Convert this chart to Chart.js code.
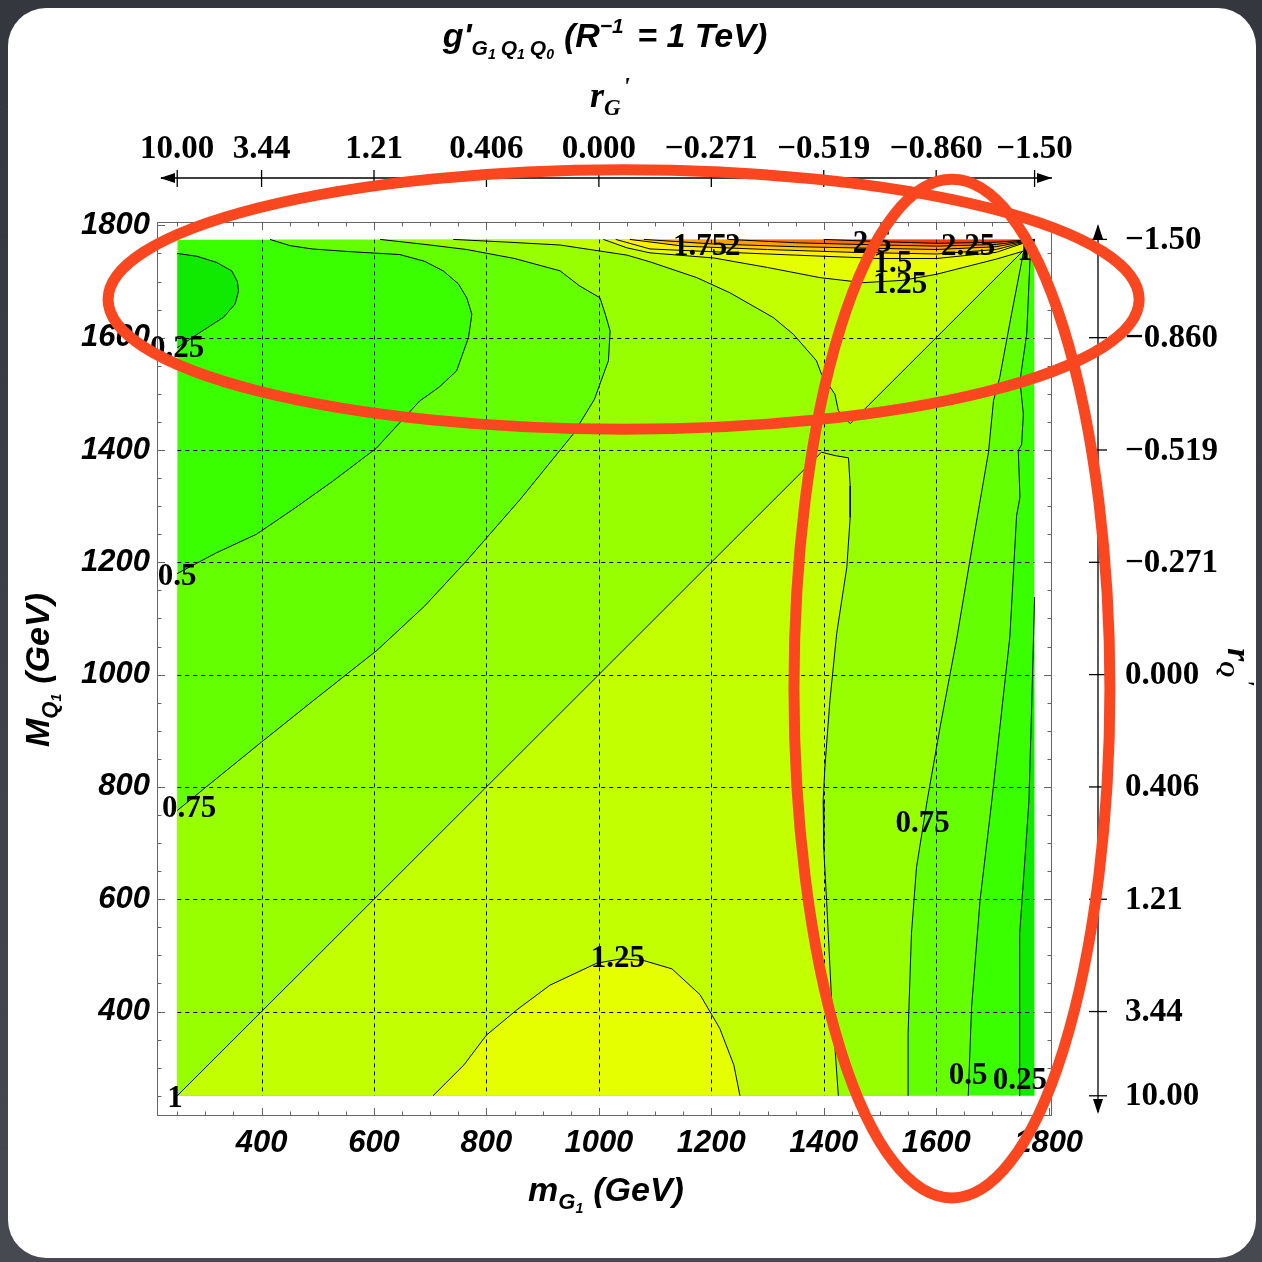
<!DOCTYPE html>
<html>
<head>
<meta charset="utf-8">
<script src="https://cdn.jsdelivr.net/npm/chart.js@4.4.1/dist/chart.umd.min.js"></script>
<style>
  html, body { margin: 0; padding: 0; background: #3c3f46; }
  canvas { display: block; }
</style>
</head>
<body>
<canvas id="chart" width="1262" height="1262"></canvas>
<script>
// axis ticks (GeV) and the r' scales that go with them
const massTicks = [400, 600, 800, 1000, 1200, 1400, 1600, 1800];
const gridMasses = [400, 600, 800, 1000, 1200, 1400, 1600];
const rTickMasses = [250, 400, 600, 800, 1000, 1200, 1400, 1600, 1775];
const rTickLabels = ['10.00', '3.44', '1.21', '0.406', '0.000', '\u22120.271', '\u22120.519', '\u22120.860', '\u22121.50'];
const massLow = 250, massHigh = 1775;

// contour lines, [mG1, MQ1] in GeV
const contour025Left = [[250,1750],[285,1745],[320,1734],[347,1719],[357,1700],[359,1683],[353,1660],[332,1636],[290,1609],[250,1582]];
const contour025Right = [[1748,250],[1748,391],[1749,539],[1761,717],[1765,776],[1770,950],[1775,1138]];
const contour050Left = [[415,1775],[450,1764],[490,1758],[560,1753],[646,1748],[690,1736],[723,1719],[750,1696],[765,1671],[774,1642],[771,1620],[768,1600],[747,1541],[716,1512],[681,1487],[604,1403],[526,1344],[460,1297],[391,1250],[320,1217],[250,1180]];
const contour050Right = [[1657,250],[1663,408],[1678,598],[1699,776],[1731,1067],[1743,1283],[1749,1316],[1746,1399],[1752,1410],[1755,1464],[1749,1523],[1761,1606],[1767,1742],[1775,1775]];
const contour075Left = [[611,1775],[700,1765],[765,1757],[850,1741],[931,1719],[966,1692],[1002,1671],[1012,1640],[1020,1612],[1017,1559],[992,1490],[954,1428],[860,1312],[765,1203],[690,1122],[605,1043],[500,960],[400,880],[320,815],[250,758]];
const contour075Right = [[1550,250],[1550,361],[1556,539],[1565,657],[1584,776],[1607,907],[1636,1061],[1666,1239],[1693,1396],[1702,1488],[1713,1529],[1734,1642],[1755,1751],[1775,1775]];
const contour100Lower = [[250,250],[1396,1396],[1420,1390],[1444,1386],[1447,1336],[1447,1280],[1441,1191],[1423,1073],[1411,954],[1402,835],[1399,776],[1400,690],[1405,598],[1414,420],[1426,250]];
const contour100Upper = [[741,1775],[840,1770],[931,1765],[1050,1747],[1091,1735],[1174,1707],[1233,1680],[1310,1636],[1346,1606],[1387,1559],[1396,1535],[1420,1499],[1426,1470],[1447,1447],[1600,1600],[1760,1760],[1775,1775]];
const contour125Lower = [[705,250],[760,305],[800,358],[854,403],[913,447],[996,486],[1040,494],[1079,491],[1130,476],[1180,430],[1215,370],[1240,305],[1251,250]];
const contour125Upper = [[1008,1775],[1050,1760],[1091,1751],[1204,1742],[1300,1725],[1393,1707],[1470,1698],[1540,1702],[1601,1713],[1707,1740],[1755,1754],[1775,1775]];
const contour150 = [[1030,1775],[1091,1758],[1204,1753],[1350,1747],[1500,1741],[1601,1741],[1707,1752],[1775,1775]];
const contour175 = [[1055,1775],[1150,1763],[1300,1757],[1450,1752],[1601,1749],[1707,1757],[1775,1775]];
const contour200 = [[1080,1775],[1200,1767],[1350,1762],[1500,1759],[1601,1757],[1707,1762],[1775,1775]];
const contour225 = [[1230,1775],[1350,1769],[1500,1765],[1601,1763],[1707,1766],[1775,1775]];
const contour250 = [[1400,1775],[1500,1771],[1601,1768],[1707,1770],[1775,1775]];

// contour labels: text, mG1, MQ1
const contourLabels = [
  ['0.25', 250, 1582], ['0.5', 250, 1176], ['0.75', 271, 762], ['1', 246, 246],
  ['1.25', 1034, 495], ['0.75', 1576, 735], ['0.5', 1657, 287], ['0.25', 1749, 278],
  ['1.75', 1180, 1763], ['2', 1238, 1763], ['2.5', 1486, 1769], ['1.5', 1523, 1733],
  ['1.25', 1536, 1696], ['2.25', 1657, 1763], ['1', 1758, 1754]
];

// red hand-drawn marks: centre and radii in GeV
const markEllipses = [
  { cx: 1044, cy: 1668, rx: 917, ry: 231 },
  { cx: 1628, cy: 975, rx: 281, ry: 907 }
];

const bandColors = ['#3aff00', '#10ea00', '#64ff00', '#98ff00', '#c2ff00', '#e6ff00', '#fff000', '#ffcc00', '#ffa000', '#ff7000', '#ff3a00'];

const fillRegions = [
  { color: bandColors[0], pts: [[massLow, massLow], [massHigh, massLow], [massHigh, massHigh], [massLow, massHigh]] },
  { color: bandColors[1], pts: contour025Left },
  { color: bandColors[1], pts: contour025Right.concat([[massHigh, massLow]]) },
  { color: bandColors[2], pts: contour050Left.concat([[massLow, massLow]], contour050Right) },
  { color: bandColors[3], pts: contour075Left.concat([[massLow, massLow]], contour075Right) },
  { color: bandColors[4], pts: contour100Lower },
  { color: bandColors[4], pts: contour100Upper },
  { color: bandColors[5], pts: contour125Lower },
  { color: bandColors[5], pts: contour125Upper },
  { color: bandColors[6], pts: contour150 },
  { color: bandColors[7], pts: contour175 },
  { color: bandColors[8], pts: contour200 },
  { color: bandColors[9], pts: contour225 },
  { color: bandColors[10], pts: contour250 }
];

const contourLines = [contour025Left, contour025Right, contour050Left, contour050Right, contour075Left, contour075Right,
  contour100Lower, contour100Upper, contour125Lower, contour125Upper, contour150, contour175, contour200, contour225, contour250];

const sansBI = s => `italic bold ${s}px "Liberation Sans"`;
const serifB = s => `bold ${s}px "Liberation Serif"`;
const serifBI = s => `italic bold ${s}px "Liberation Serif"`;

function drawRich(ctx, parts, x, y, angle) {
  ctx.save();
  ctx.translate(x, y);
  if (angle) ctx.rotate(angle);
  let total = 0;
  parts.forEach(p => { ctx.font = p.f; p.w = ctx.measureText(p.t).width + (p.gap || 0); total += p.w; });
  let cx = -total / 2;
  ctx.textAlign = 'left';
  ctx.textBaseline = 'alphabetic';
  ctx.fillStyle = '#000';
  parts.forEach(p => { ctx.font = p.f; ctx.fillText(p.t, cx, p.dy || 0); cx += p.w; });
  ctx.restore();
}

function polyPath(ctx, xs, ys, pts) {
  ctx.beginPath();
  pts.forEach((p, i) => {
    const px = xs.getPixelForValue(p[0]), py = ys.getPixelForValue(p[1]);
    if (i === 0) ctx.moveTo(px, py); else ctx.lineTo(px, py);
  });
  ctx.closePath();
}

const plotDecor = {
  id: 'plotDecor',
  beforeDraw(chart) {
    const ctx = chart.ctx;
    ctx.save();
    const g = ctx.createLinearGradient(0, 0, 0, chart.height);
    g.addColorStop(0, '#34373e');
    g.addColorStop(1, '#464950');
    ctx.fillStyle = g;
    ctx.fillRect(0, 0, chart.width, chart.height);
    ctx.fillStyle = '#fff';
    ctx.beginPath();
    ctx.roundRect(8, 8, 1248, 1250, 38);
    ctx.fill();
    ctx.restore();
  },
  beforeDatasetsDraw(chart) {
    const ctx = chart.ctx, xs = chart.scales.x, ys = chart.scales.y;
    const l = xs.getPixelForValue(massLow), r = xs.getPixelForValue(massHigh);
    const t = ys.getPixelForValue(massHigh), b = ys.getPixelForValue(massLow);
    ctx.save();
    ctx.beginPath();
    ctx.rect(l, t, r - l, b - t);
    ctx.clip();
    fillRegions.forEach(reg => {
      polyPath(ctx, xs, ys, reg.pts);
      ctx.fillStyle = reg.color;
      ctx.fill();
    });
    // dashed grid
    ctx.strokeStyle = '#000';
    ctx.lineWidth = 1;
    ctx.setLineDash([4, 4]);
    gridMasses.forEach(v => {
      const px = Math.round(xs.getPixelForValue(v)) + 0.5;
      ctx.beginPath(); ctx.moveTo(px, t); ctx.lineTo(px, b); ctx.stroke();
      const py = Math.round(ys.getPixelForValue(v)) + 0.5;
      ctx.beginPath(); ctx.moveTo(l, py); ctx.lineTo(r, py); ctx.stroke();
    });
    ctx.restore();
  },
  afterDatasetsDraw(chart) {
    const ctx = chart.ctx, xs = chart.scales.x, ys = chart.scales.y, a = chart.chartArea;
    ctx.save();
    // frame with inward ticks
    ctx.strokeStyle = '#666';
    ctx.lineWidth = 1;
    ctx.strokeRect(a.left + 0.5, a.top + 0.5, a.right - a.left - 1, a.bottom - a.top - 1);
    for (let v = 250; v <= 1800; v += 50) {
      const len = v % 200 === 0 ? 8 : 4.5;
      const px = Math.round(xs.getPixelForValue(v)) + 0.5;
      const py = Math.round(ys.getPixelForValue(v)) + 0.5;
      ctx.beginPath();
      ctx.moveTo(px, a.bottom); ctx.lineTo(px, a.bottom - len);
      ctx.moveTo(px, a.top); ctx.lineTo(px, a.top + len);
      ctx.moveTo(a.left, py); ctx.lineTo(a.left + len, py);
      ctx.moveTo(a.right, py); ctx.lineTo(a.right - len, py);
      ctx.stroke();
    }
    // contour labels
    ctx.fillStyle = '#000';
    ctx.font = serifB(31);
    ctx.textAlign = 'center';
    ctx.textBaseline = 'middle';
    contourLabels.forEach(([txt, mx, my]) => {
      ctx.fillText(txt, xs.getPixelForValue(mx), ys.getPixelForValue(my) + 1);
    });
    ctx.restore();
  },
  afterDraw(chart) {
    const ctx = chart.ctx, xs = chart.scales.x, ys = chart.scales.y, a = chart.chartArea;
    ctx.save();
    ctx.strokeStyle = '#000';
    ctx.fillStyle = '#000';
    ctx.lineWidth = 1.3;
    // top r_G' axis
    const ty = a.top - 44;
    ctx.beginPath(); ctx.moveTo(a.left + 4, ty); ctx.lineTo(a.right, ty); ctx.stroke();
    ctx.beginPath(); ctx.moveTo(a.left + 3, ty); ctx.lineTo(a.left + 18, ty - 5); ctx.lineTo(a.left + 18, ty + 5); ctx.fill();
    ctx.beginPath(); ctx.moveTo(a.right, ty); ctx.lineTo(a.right - 15, ty - 5); ctx.lineTo(a.right - 15, ty + 5); ctx.fill();
    ctx.font = serifB(33);
    ctx.textAlign = 'center';
    ctx.textBaseline = 'alphabetic';
    rTickMasses.forEach((m, i) => {
      const px = xs.getPixelForValue(m);
      ctx.beginPath(); ctx.moveTo(px, ty - 8); ctx.lineTo(px, ty + 9); ctx.stroke();
      ctx.fillText(rTickLabels[i], px, ty - 20);
    });
    // right r_Q' axis
    const rx = a.right + 46;
    ctx.beginPath(); ctx.moveTo(rx, a.top + 4); ctx.lineTo(rx, a.bottom - 4); ctx.stroke();
    ctx.beginPath(); ctx.moveTo(rx, a.top + 2); ctx.lineTo(rx - 5, a.top + 17); ctx.lineTo(rx + 5, a.top + 17); ctx.fill();
    ctx.beginPath(); ctx.moveTo(rx, a.bottom - 2); ctx.lineTo(rx - 5, a.bottom - 17); ctx.lineTo(rx + 5, a.bottom - 17); ctx.fill();
    ctx.textAlign = 'left';
    ctx.textBaseline = 'middle';
    rTickMasses.forEach((m, i) => {
      const py = ys.getPixelForValue(m);
      ctx.beginPath(); ctx.moveTo(rx - 9, py); ctx.lineTo(rx + 9, py); ctx.stroke();
      ctx.fillText(rTickLabels[i], rx + 27, py + 1);
    });
    ctx.restore();

    // titles
    drawRich(ctx, [
      { t: "g'", f: sansBI(34) },
      { t: 'G', f: sansBI(21), dy: 8 }, { t: '1', f: sansBI(14), dy: 12, gap: 5 },
      { t: 'Q', f: sansBI(21), dy: 8 }, { t: '1', f: sansBI(14), dy: 12, gap: 5 },
      { t: 'Q', f: sansBI(21), dy: 8 }, { t: '0', f: sansBI(14), dy: 12, gap: 10 },
      { t: '(R', f: sansBI(34) }, { t: '\u22121', f: sansBI(21), dy: -14, gap: 4 },
      { t: ' = 1 TeV)', f: sansBI(34) }
    ], 605, 47);
    drawRich(ctx, [
      { t: 'r', f: serifBI(36) }, { t: 'G', f: serifBI(23), dy: 8, gap: 2 }, { t: "'", f: serifBI(26), dy: -12 }
    ], 610, 107);
    drawRich(ctx, [
      { t: 'm', f: sansBI(34) }, { t: 'G', f: sansBI(22), dy: 8 }, { t: '1', f: sansBI(14), dy: 12, gap: 10 },
      { t: '(GeV)', f: sansBI(34) }
    ], 606, 1201);
    drawRich(ctx, [
      { t: 'M', f: sansBI(34) }, { t: 'Q', f: sansBI(22), dy: 8 }, { t: '1', f: sansBI(14), dy: 12, gap: 10 },
      { t: '(GeV)', f: sansBI(34) }
    ], 49, 670, -Math.PI / 2);
    drawRich(ctx, [
      { t: 'r', f: serifBI(34) }, { t: 'Q', f: serifBI(22), dy: 8, gap: 2 }, { t: "'", f: serifBI(24), dy: -11 }
    ], 1228, 667, Math.PI / 2);

    // red marks
    ctx.save();
    ctx.strokeStyle = '#fb4720';
    ctx.lineWidth = 11;
    markEllipses.forEach(e => {
      const cx = xs.getPixelForValue(e.cx), cy = ys.getPixelForValue(e.cy);
      const rxp = xs.getPixelForValue(e.cx + e.rx) - cx;
      const ryp = cy - ys.getPixelForValue(e.cy + e.ry);
      ctx.beginPath(); ctx.ellipse(cx, cy, rxp, ryp, 0, 0, Math.PI * 2); ctx.stroke();
    });
    ctx.restore();
  }
};

const tickFont = { family: 'Liberation Sans', size: 31, style: 'italic', weight: 'bold' };

new Chart(document.getElementById('chart'), {
  type: 'scatter',
  data: {
    datasets: contourLines.map(line => ({
      data: line.map(p => ({ x: p[0], y: p[1] })),
      showLine: true,
      borderColor: '#000',
      borderWidth: 1,
      pointRadius: 0,
      pointHoverRadius: 0,
      tension: 0,
      fill: false
    }))
  },
  options: {
    responsive: false,
    animation: false,
    events: [],
    layout: { padding: { left: 0, top: 222, right: 210, bottom: 86 } },
    plugins: { legend: { display: false }, tooltip: { enabled: false } },
    scales: {
      x: {
        type: 'linear', min: 214, max: 1806,
        grid: { display: false, drawTicks: false },
        border: { display: false },
        ticks: { font: tickFont, color: '#000', padding: 9, maxRotation: 0, autoSkip: false, callback: v => String(v) },
        afterBuildTicks: s => { s.ticks = massTicks.map(v => ({ value: v })); },
        afterFit: s => { s.height = 60; }
      },
      y: {
        type: 'linear', min: 214, max: 1806,
        grid: { display: false, drawTicks: false },
        border: { display: false },
        ticks: { font: tickFont, color: '#000', padding: 7, autoSkip: false, callback: v => String(v) },
        afterBuildTicks: s => { s.ticks = massTicks.map(v => ({ value: v })); },
        afterFit: s => { s.height = undefined; s.width = 157; }
      }
    }
  },
  plugins: [plotDecor]
});
</script>
</body>
</html>
